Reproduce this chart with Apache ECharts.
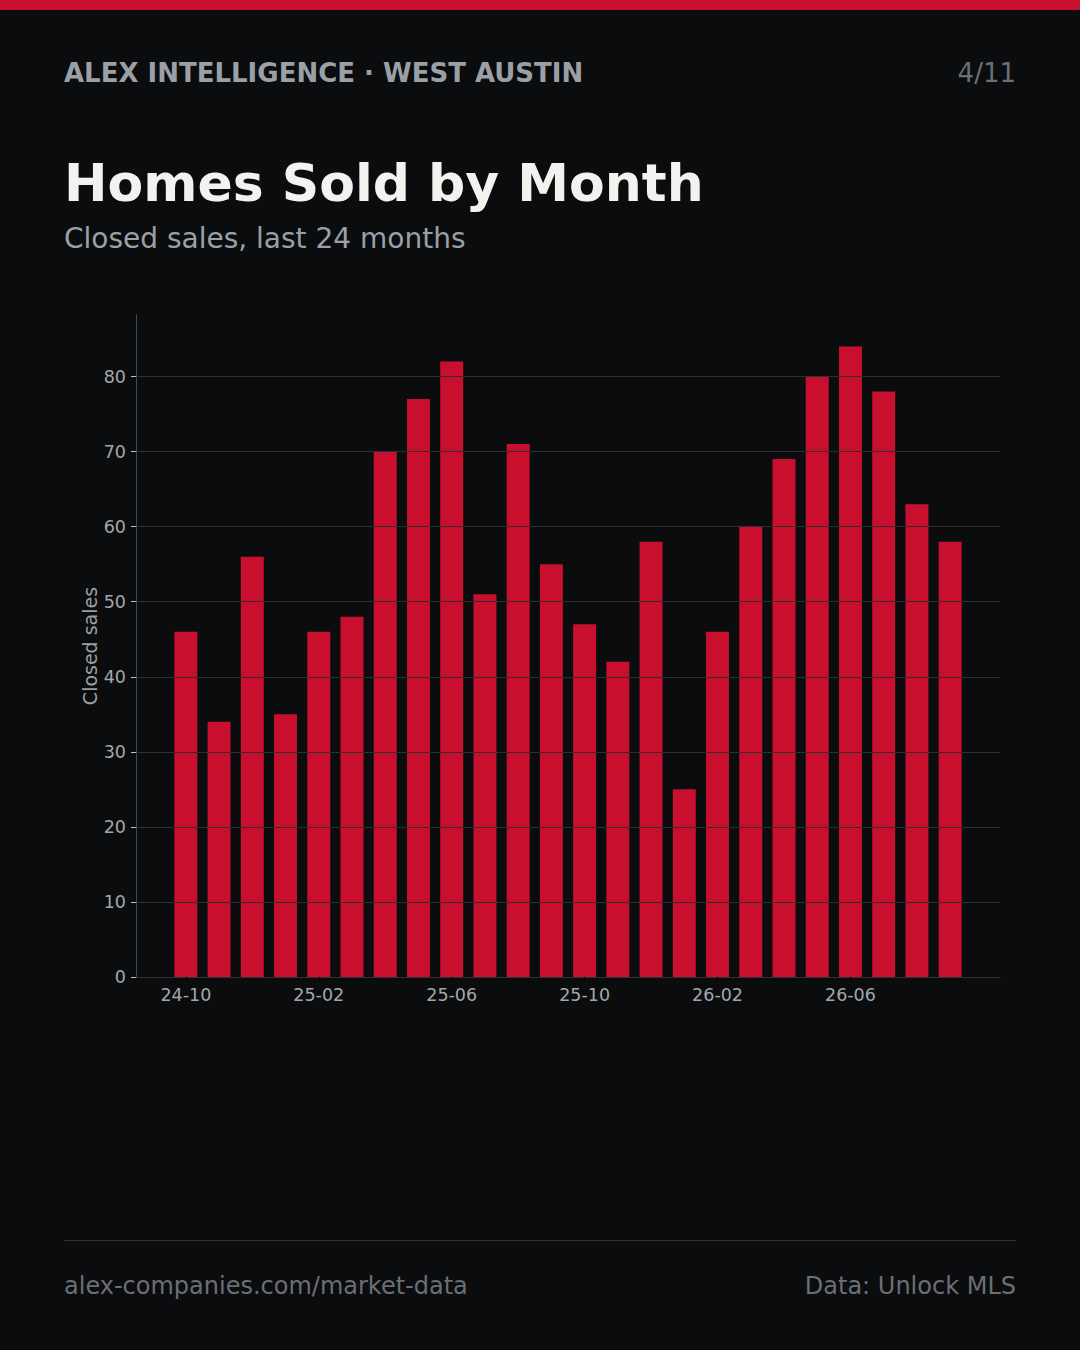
<!DOCTYPE html>
<html>
<head>
<meta charset="utf-8">
<script src="https://cdn.jsdelivr.net/npm/echarts@6/dist/echarts.min.js"></script>
<style>
  html, body { margin: 0; padding: 0; background: #0b0c0e; }
  #chart { width: 1080px; height: 1350px; }
</style>
</head>
<body>
<div id="chart"></div>
<script>
// months shown on the x axis
const months = [
  '24-10', '24-11', '24-12', '25-01', '25-02', '25-03', '25-04', '25-05',
  '25-06', '25-07', '25-08', '25-09', '25-10', '25-11', '25-12', '26-01',
  '26-02', '26-03', '26-04', '26-05', '26-06', '26-07', '26-08', '26-09'
];

// closed sales per month
const closedSales = [
  46, 34, 56, 35, 46, 48, 70, 77,
  82, 51, 71, 55, 47, 42, 58, 25,
  46, 60, 69, 80, 84, 78, 63, 58
];

// which months get a label (every 4th)
const labelIndexes = [0, 4, 8, 12, 16, 20];
const yTicks = [0, 10, 20, 30, 40, 50, 60, 70, 80];

const RED = '#c8102e';
const FONT = '"DejaVu Sans", sans-serif';

const option = {
  backgroundColor: '#0b0c0e',
  animation: false,
  textStyle: { fontFamily: FONT },
  grid: {
    left: 136,
    right: 80,
    top: 315,
    bottom: 373,
    containLabel: false
  },
  xAxis: {
    type: 'value',
    min: -1.5,
    max: 24.5,
    axisLine: { show: true, lineStyle: { color: '#2f3135', width: 1 } },
    axisTick: {
      show: true,
      customValues: labelIndexes,
      length: 4,
      lineStyle: { color: '#000000' }
    },
    axisLabel: {
      customValues: labelIndexes,
      color: '#a3a7ab',
      fontSize: 17.5,
      fontFamily: FONT,
      margin: 9,
      formatter: (v) => months[Math.round(v)] || ''
    },
    splitLine: { show: false }
  },
  yAxis: {
    type: 'value',
    min: 0,
    max: 88.2,
    interval: 10,
    z: 5,
    name: 'Closed sales',
    nameLocation: 'middle',
    nameGap: 37,
    nameMoveOverlap: false,
    nameTextStyle: { color: '#9aa0a6', fontSize: 19, fontFamily: FONT },
    axisLine: { show: true, onZero: false, lineStyle: { color: '#45484d', width: 1 } },
    axisTick: {
      show: true,
      customValues: yTicks,
      length: 5,
      lineStyle: { color: '#b8bcc0' }
    },
    axisLabel: {
      customValues: yTicks,
      color: '#a3a7ab',
      fontSize: 17.5,
      fontFamily: FONT,
      margin: 10
    },
    splitLine: {
      show: true,
      showMinLine: false,
      lineStyle: { color: '#2c2e32', width: 1 }
    }
  },
  series: [
    {
      type: 'bar',
      z: 2,
      barWidth: 23,
      itemStyle: { color: RED },
      data: closedSales.map((v, i) => [i, v])
    }
  ],
  graphic: [
    // top accent strip
    { type: 'rect', left: 0, top: 0, shape: { width: 1080, height: 10 }, style: { fill: RED } },
    {
      type: 'text', x: 64, y: 73,
      style: { text: 'ALEX INTELLIGENCE · WEST AUSTIN', fill: '#9aa0a6', font: 'bold 26px ' + FONT, textVerticalAlign: 'middle' }
    },
    {
      type: 'text', x: 1016, y: 73,
      style: { text: '4/11', fill: '#6b6f75', font: '26px ' + FONT, textAlign: 'right', textVerticalAlign: 'middle' }
    },
    {
      type: 'text', x: 64, y: 183,
      style: { text: 'Homes Sold by Month', fill: '#f4f2ee', font: 'bold 52px ' + FONT, textVerticalAlign: 'middle' }
    },
    {
      type: 'text', x: 64, y: 238,
      style: { text: 'Closed sales, last 24 months', fill: '#9aa0a6', font: '28px ' + FONT, textVerticalAlign: 'middle' }
    },
    // footer rule
    { type: 'rect', left: 64, top: 1240, shape: { width: 952, height: 1 }, style: { fill: '#2e3034' } },
    {
      type: 'text', x: 64, y: 1286,
      style: { text: 'alex-companies.com/market-data', fill: '#6b6f75', font: '24px ' + FONT, textVerticalAlign: 'middle' }
    },
    {
      type: 'text', x: 1016, y: 1286,
      style: { text: 'Data: Unlock MLS', fill: '#6b6f75', font: '24px ' + FONT, textAlign: 'right', textVerticalAlign: 'middle' }
    }
  ]
};

const chart = echarts.init(document.getElementById('chart'), null, { renderer: 'svg' });
chart.setOption(option);
</script>
</body>
</html>
